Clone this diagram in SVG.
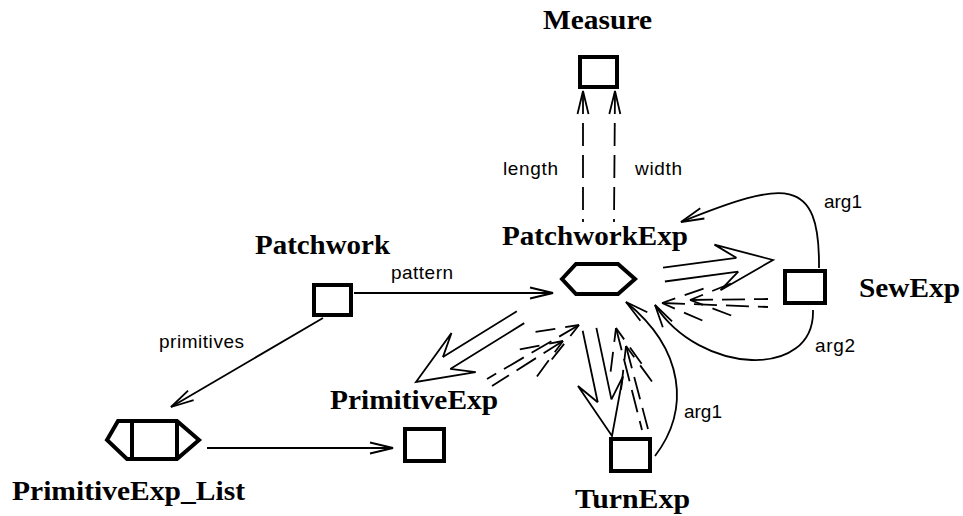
<svg xmlns="http://www.w3.org/2000/svg" width="963" height="516" viewBox="0 0 963 516">
<style>
.node{fill:#fff;stroke:#000;stroke-width:4;stroke-linejoin:miter}
.c{fill:none;stroke:#000;stroke-width:1.8}
.d{fill:none;stroke:#000;stroke-width:1.8;stroke-dasharray:23 9}
.t{font-family:"Liberation Serif","Times New Roman",serif;font-weight:bold;font-size:27px;fill:#000}
.s{font-family:"Liberation Sans",Arial,sans-serif;font-size:19px;fill:#000}
</style>
<defs>
<marker id="open" markerUnits="userSpaceOnUse" orient="auto-start-reverse" overflow="visible" markerWidth="1" markerHeight="1" refX="0" refY="0">
<path d="M-23,-5.5 L0,0 L-23,5.5" fill="none" stroke="#000" stroke-width="1.8"/>
</marker>
<marker id="dhead" markerUnits="userSpaceOnUse" orient="auto-start-reverse" overflow="visible" markerWidth="1" markerHeight="1" refX="0" refY="0">
<path d="M0,0 L-41,-16 M0,0 L-41,16" fill="none" stroke="#000" stroke-width="1.8" stroke-dasharray="14 10 30"/>
</marker>
<path id="bighead" d="M-36,-7 L-56,-23 L0,0 L-56,23 L-36,7" fill="none" stroke="#000" stroke-width="1.8" stroke-linejoin="miter"/>
</defs>

<g id="connectors">
<path class="d" d="M583,91 L583,222" marker-start="url(#open)"/>
<path class="d" d="M615,91 L614,222" marker-start="url(#open)"/>
<text class="s" x="503" y="175" textLength="55">length</text>
<text class="s" x="635" y="175" textLength="47">width</text>
<path class="c" d="M354,293 L553,293" marker-end="url(#open)"/>
<text class="s" x="391" y="279" textLength="62">pattern</text>
<path class="c" d="M323,318 L171,407" marker-end="url(#open)"/>
<text class="s" x="159" y="348" textLength="85">primitives</text>
<path class="c" d="M207,448 L393,448" marker-end="url(#open)"/>
<g transform="translate(773,260) rotate(-7.6)"><use href="#bighead"/><path class="c" d="M-110,-7 H-36 M-110,7 H-36"/></g>
<g transform="translate(416,382) rotate(148.2)"><use href="#bighead"/><path class="c" d="M-123,-7 H-36 M-123,7 H-36"/></g>
<g transform="translate(612,436) rotate(78.1)"><use href="#bighead"/><path class="c" d="M-109,-7 H-36 M-109,7 H-36"/></g>
<path class="d" d="M662,303 L768,307" marker-start="url(#dhead)"/>
<path class="d" d="M690,300 L768,299" marker-start="url(#dhead)"/>
<path class="d" d="M579,325 L487,379" marker-start="url(#dhead)"/>
<path class="d" d="M563,341 L492,386" marker-start="url(#dhead)"/>
<path class="d" d="M616,328 L642,430" marker-start="url(#dhead)"/>
<path class="d" d="M626,346 L648,429" marker-start="url(#dhead)"/>
<path class="c" d="M819,268 C820,175 785,180 681,222" marker-end="url(#open)"/>
<text class="s" x="824" y="208" textLength="38">arg1</text>
<path class="c" d="M813,310 C815,380 700,375 655,305" marker-end="url(#open)"/>
<text class="s" x="815" y="352" textLength="40">arg2</text>
<path class="c" d="M655,456 C690,410 685,350 626,302" marker-end="url(#open)"/>
<text class="s" x="684" y="418" textLength="38">arg1</text>
</g>

<g id="Measure">
<rect class="node" x="580" y="57" width="37" height="30"/>
<text class="t" x="543" y="29" textLength="109" lengthAdjust="spacingAndGlyphs">Measure</text>
</g>
<g id="PatchworkExp">
<polygon class="node" points="562,279 576,264 618,264 635,279 618,294 576,294"/>
<text class="t" x="502" y="245" textLength="186" lengthAdjust="spacingAndGlyphs">PatchworkExp</text>
</g>
<g id="Patchwork">
<rect class="node" x="314" y="285" width="37" height="30"/>
<text class="t" x="255" y="254" textLength="135" lengthAdjust="spacingAndGlyphs">Patchwork</text>
</g>
<g id="SewExp">
<rect class="node" x="785" y="271" width="40" height="32"/>
<text class="t" x="859" y="297" textLength="101" lengthAdjust="spacingAndGlyphs">SewExp</text>
</g>
<g id="TurnExp">
<rect class="node" x="611" y="439" width="39" height="32"/>
<text class="t" x="575" y="508" textLength="115" lengthAdjust="spacingAndGlyphs">TurnExp</text>
</g>
<g id="PrimitiveExp">
<rect class="node" x="405" y="429" width="39" height="32"/>
<text class="t" x="330" y="409" textLength="168" lengthAdjust="spacingAndGlyphs">PrimitiveExp</text>
</g>
<g id="PrimitiveExp_List">
<polygon class="node" points="107,440 118,421 177,421 199,440 177,459 127,459"/>
<path class="node" d="M132,421 V459 M177,421 V459"/>
<text class="t" x="12" y="500" textLength="233" lengthAdjust="spacingAndGlyphs">PrimitiveExp_List</text>
</g>
</svg>
